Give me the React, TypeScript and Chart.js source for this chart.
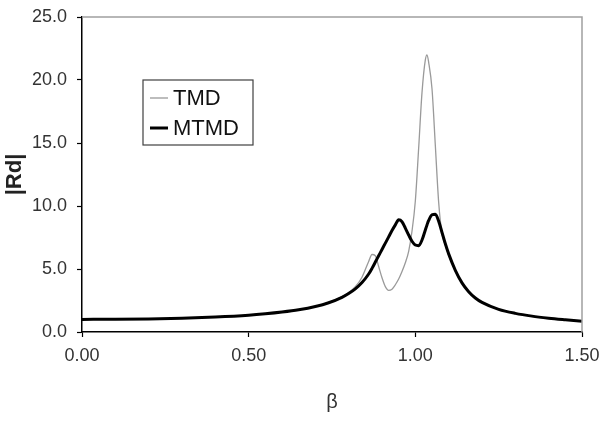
import React, { useEffect, useRef } from "react";
import { Chart, registerables } from "chart.js";

Chart.register(...registerables);

// Frequency ratio β shared by both response curves
const beta = [
  0, 0.1, 0.2, 0.3, 0.4, 0.5, 0.55, 0.6, 0.65, 0.7, 0.74, 0.78, 0.8, 0.82, 0.84,
  0.86, 0.87, 0.88, 0.89, 0.9, 0.91, 0.92, 0.93, 0.94, 0.95, 0.96, 0.97, 0.98,
  0.99, 1.0, 1.01, 1.02, 1.03, 1.035, 1.04, 1.05, 1.06, 1.07, 1.08, 1.09, 1.1,
  1.12, 1.14, 1.16, 1.18, 1.2, 1.25, 1.3, 1.35, 1.4, 1.45, 1.5,
];

// |Rd| with a single tuned mass damper
const tmd = [
  1.0, 1.01, 1.04, 1.1, 1.19, 1.33, 1.44, 1.58, 1.77, 2.04, 2.36, 2.82, 3.14,
  3.6, 4.35, 5.6, 6.15, 6.05, 5.2, 4.3, 3.6, 3.3, 3.4, 3.75, 4.2, 4.8, 5.5, 6.4,
  8.0, 10.4, 14.6, 19.0, 21.6, 22.0, 21.4, 19.3, 14.8, 10.3, 7.8, 6.9, 6.1,
  4.85, 3.88, 3.18, 2.69, 2.34, 1.79, 1.47, 1.25, 1.09, 0.96, 0.84,
];

// |Rd| with multiple tuned mass dampers
const mtmd = [
  1.0, 1.01, 1.04, 1.1, 1.19, 1.33, 1.44, 1.58, 1.76, 2.02, 2.32, 2.75, 3.05,
  3.42, 3.92, 4.6, 5.05, 5.55, 6.05, 6.55, 7.05, 7.55, 8.05, 8.5, 8.9, 8.75,
  8.25, 7.7, 7.2, 6.9, 6.85, 7.3, 8.1, 8.5, 8.85, 9.3, 9.35, 8.8, 7.9, 7.0,
  6.2, 4.9, 3.9, 3.2, 2.7, 2.35, 1.8, 1.48, 1.26, 1.1, 0.97, 0.85,
];

const seriesLabels = ["TMD", "MTMD"];
const xTicks = [0, 0.5, 1.0, 1.5];
const xTitle = "β";
const yTitle = "|Rd|";

const FONT = "'Liberation Sans', Arial, sans-serif";

const toPoints = (ys: number[]) => beta.map((b, i) => ({ x: b, y: ys[i] }));

// Grey top/right frame of the plot area
const frame = {
  id: "frame",
  afterDatasetsDraw(chart: any) {
    const { ctx, chartArea } = chart;
    ctx.save();
    ctx.strokeStyle = "#a0a0a0";
    ctx.lineWidth = 1.5;
    ctx.beginPath();
    ctx.moveTo(chartArea.left, chartArea.top);
    ctx.lineTo(chartArea.right, chartArea.top);
    ctx.lineTo(chartArea.right, chartArea.bottom);
    ctx.stroke();
    ctx.restore();
  },
};

// Boxed legend inside the plot area
const boxLegend = {
  id: "boxLegend",
  afterDraw(chart: any) {
    const { ctx, chartArea } = chart;
    const x0 = chartArea.left + 61;
    const y0 = chartArea.top + 63;
    const w = 110;
    const h = 65;
    ctx.save();
    ctx.fillStyle = "#ffffff";
    ctx.fillRect(x0, y0, w, h);
    ctx.strokeStyle = "#404040";
    ctx.lineWidth = 1.2;
    ctx.strokeRect(x0, y0, w, h);
    ctx.font = `22px ${FONT}`;
    ctx.textBaseline = "middle";
    chart.data.datasets.forEach((ds: any, i: number) => {
      const cy = y0 + 18 + i * 30;
      ctx.strokeStyle = ds.borderColor;
      ctx.lineWidth = ds.borderWidth;
      ctx.beginPath();
      ctx.moveTo(x0 + 7, cy);
      ctx.lineTo(x0 + 25, cy);
      ctx.stroke();
      ctx.fillStyle = "#111111";
      ctx.fillText(ds.label, x0 + 30, cy + 1);
    });
    ctx.restore();
  },
};

export default function App() {
  const ref = useRef<HTMLCanvasElement | null>(null);

  useEffect(() => {
    if (!ref.current) return;
    const chart = new Chart(ref.current, {
      type: "line",
      data: {
        datasets: [
          {
            label: seriesLabels[0],
            data: toPoints(tmd),
            borderColor: "#9a9a9a",
            borderWidth: 1.3,
            pointRadius: 0,
            cubicInterpolationMode: "monotone",
            order: 1,
          },
          {
            label: seriesLabels[1],
            data: toPoints(mtmd),
            borderColor: "#000000",
            borderWidth: 3,
            pointRadius: 0,
            cubicInterpolationMode: "monotone",
            order: 0,
          },
        ],
      },
      options: {
        animation: false,
        responsive: false,
        layout: { padding: { top: 17, right: 18, left: 0, bottom: 0 } },
        plugins: {
          legend: { display: false },
          tooltip: { enabled: false },
        },
        scales: {
          x: {
            type: "linear",
            min: 0,
            max: 1.5,
            afterBuildTicks: (scale: any) => {
              scale.ticks = xTicks.map((v) => ({ value: v }));
            },
            afterFit: (scale: any) => {
              scale.height = 90;
              scale.paddingLeft = 0;
              scale.paddingRight = 0;
            },
            ticks: {
              autoSkip: false,
              maxRotation: 0,
              padding: 8,
              color: "#333333",
              font: { family: FONT, size: 18 },
              callback: (v: any) => Number(v).toFixed(2),
            },
            grid: {
              drawOnChartArea: false,
              drawTicks: true,
              tickLength: 5,
              tickColor: "#000000",
              tickWidth: 1.2,
            },
            border: { display: true, color: "#000000", width: 1.5 },
            title: {
              display: true,
              text: xTitle,
              color: "#333333",
              font: { family: FONT, size: 20 },
              padding: { top: 0, bottom: 8 },
            },
          },
          y: {
            type: "linear",
            min: 0,
            max: 25,
            afterFit: (scale: any) => {
              scale.width = 82;
              scale.paddingTop = 0;
              scale.paddingBottom = 0;
            },
            ticks: {
              stepSize: 5,
              padding: 10,
              color: "#333333",
              font: { family: FONT, size: 18 },
              callback: (v: any) => Number(v).toFixed(1),
            },
            grid: {
              drawOnChartArea: false,
              drawTicks: true,
              tickLength: 5,
              tickColor: "#000000",
              tickWidth: 1.2,
            },
            border: { display: true, color: "#000000", width: 1.5 },
            title: {
              display: true,
              text: yTitle,
              color: "#222222",
              font: { family: FONT, size: 22, weight: "bold" },
              padding: { top: 2, bottom: 0 },
            },
          },
        },
      },
      plugins: [frame, boxLegend],
    } as any);
    return () => chart.destroy();
  }, []);

  return (
    <div style={{ position: "fixed", left: 0, top: 0, width: 600, height: 422, background: "#ffffff" }}>
      <canvas ref={ref} width={600} height={422} style={{ display: "block" }} />
    </div>
  );
}
